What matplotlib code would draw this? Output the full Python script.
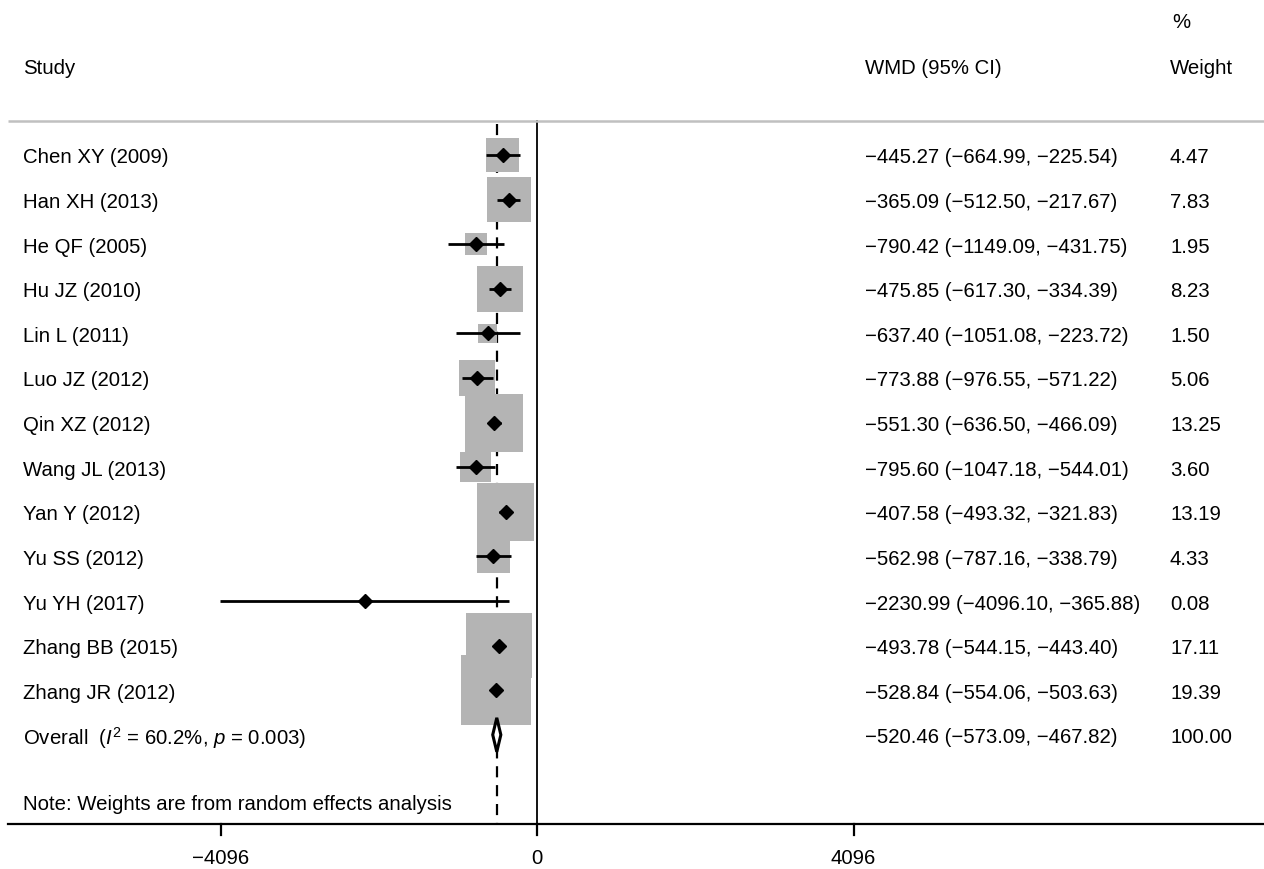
import matplotlib
matplotlib.use("Agg")
import matplotlib.pyplot as plt
from matplotlib.patches import Rectangle, Polygon
import numpy as np

plt.rcParams['font.family'] = ['Liberation Sans', 'DejaVu Sans']
plt.rcParams['mathtext.fontset'] = 'custom'
plt.rcParams['mathtext.rm'] = 'Liberation Sans'
plt.rcParams['mathtext.it'] = 'Liberation Sans:italic'

studies = ["Chen XY (2009)", "Han XH (2013)", "He QF (2005)", "Hu JZ (2010)",
           "Lin L (2011)", "Luo JZ (2012)", "Qin XZ (2012)", "Wang JL (2013)",
           "Yan Y (2012)", "Yu SS (2012)", "Yu YH (2017)", "Zhang BB (2015)",
           "Zhang JR (2012)"]
wmd = [-445.27, -365.09, -790.42, -475.85, -637.40, -773.88, -551.30, -795.60,
       -407.58, -562.98, -2230.99, -493.78, -528.84]
ci_lo = [-664.99, -512.50, -1149.09, -617.30, -1051.08, -976.55, -636.50, -1047.18,
         -493.32, -787.16, -4096.10, -544.15, -554.06]
ci_hi = [-225.54, -217.67, -431.75, -334.39, -223.72, -571.22, -466.09, -544.01,
         -321.83, -338.79, -365.88, -443.40, -503.63]
weights = [4.47, 7.83, 1.95, 8.23, 1.50, 5.06, 13.25, 3.60, 13.19, 4.33, 0.08, 17.11, 19.39]
overall = -520.46
overall_lo = -573.09
overall_hi = -467.82
overall_weight = 100.00
overall_label = "Overall  ($\\mathit{I}^2$ = 60.2%, $\\mathit{p}$ = 0.003)"
note = "Note: Weights are from random effects analysis"
xticks = [-4096, 0, 4096]

W, H = 1264, 870
fig = plt.figure(figsize=(W / 100, H / 100), dpi=100)
ax = fig.add_axes([0, 0, 1, 1])
ax.set_axis_off()

zero_px = 537
px_per_unit = (853 - 220) / 8192.0
row0_px = 156
row_px = 44.6
ax.set_xlim(-zero_px / px_per_unit, (W - zero_px) / px_per_unit)
ax.set_ylim((H - row0_px) / row_px, -row0_px / row_px)

def py(p):
    return (p - row0_px) / row_px

def px(p):
    return (p - zero_px) / px_per_unit

def minus(s):
    return s.replace("-", "\u2212")

fs = 14.7
n = len(studies)
rows = np.arange(n)
orow = n
toff = 2 / row_px  # small text offset

y_top = py(122)
y_axis = py(825)
x_left = px(8)
x_right = px(W)

# header
ax.text(px(23), py(69), "Study", fontsize=fs, va='center', ha='left')
ax.text(px(865), py(69), "WMD (95% CI)", fontsize=fs, va='center', ha='left')
ax.text(px(1170), py(69), "Weight", fontsize=fs, va='center', ha='left')
ax.text(px(1172), py(23), "%", fontsize=fs, va='center', ha='left')

ax.plot([x_left, x_right], [y_top, y_top], color='#c0c0c0', lw=1.8, solid_capstyle='butt')

ax.plot([overall, overall], [py(125), y_axis], color='black', lw=1.6,
        dashes=(5, 3.5), zorder=1)
ax.plot([0, 0], [y_top, y_axis], color='black', lw=1.3, zorder=1)

k = 15.9
for i in range(n):
    side = k * np.sqrt(weights[i])
    wd = side / px_per_unit
    ht = side / row_px
    ax.add_patch(Rectangle((wmd[i] - wd / 2, rows[i] - ht / 2), wd, ht,
                           facecolor='#b4b4b4', edgecolor='none', zorder=2))

for i in range(n):
    ax.plot([ci_lo[i], ci_hi[i]], [rows[i], rows[i]], color='black', lw=2.0,
            solid_capstyle='butt', zorder=3)
ax.plot(wmd, rows, linestyle='none', marker='D', markersize=7.5, color='black', zorder=4)

dh = 17 / row_px
ax.add_patch(Polygon([[overall_lo, orow], [overall, orow - dh], [overall_hi, orow],
                      [overall, orow + dh]], closed=True, facecolor='white',
                     edgecolor='black', lw=2.2, zorder=5))

for i in range(n):
    ax.text(px(23), rows[i] + toff, studies[i], fontsize=fs, va='center', ha='left')
    ax.text(px(865), rows[i] + toff, minus(f"{wmd[i]:.2f} ({ci_lo[i]:.2f}, {ci_hi[i]:.2f})"),
            fontsize=fs, va='center', ha='left')
    ax.text(px(1170), rows[i] + toff, f"{weights[i]:.2f}", fontsize=fs, va='center', ha='left')

ax.text(px(23), orow + toff, overall_label, fontsize=fs, va='center', ha='left')
ax.text(px(865), orow + toff, minus(f"{overall:.2f} ({overall_lo:.2f}, {overall_hi:.2f})"),
        fontsize=fs, va='center', ha='left')
ax.text(px(1170), orow + toff, f"{overall_weight:.2f}", fontsize=fs, va='center', ha='left')

ax.text(px(23), py(805), note, fontsize=fs, va='center', ha='left')

ax.plot([x_left, x_right], [y_axis, y_axis], color='black', lw=1.6, zorder=6)
for t in xticks:
    ax.plot([t, t], [y_axis, py(836)], color='black', lw=1.6, zorder=6)
    ax.text(t, py(859), minus(f"{t}"), fontsize=fs, va='center', ha='center')

fig.savefig("out.png", dpi=100)
